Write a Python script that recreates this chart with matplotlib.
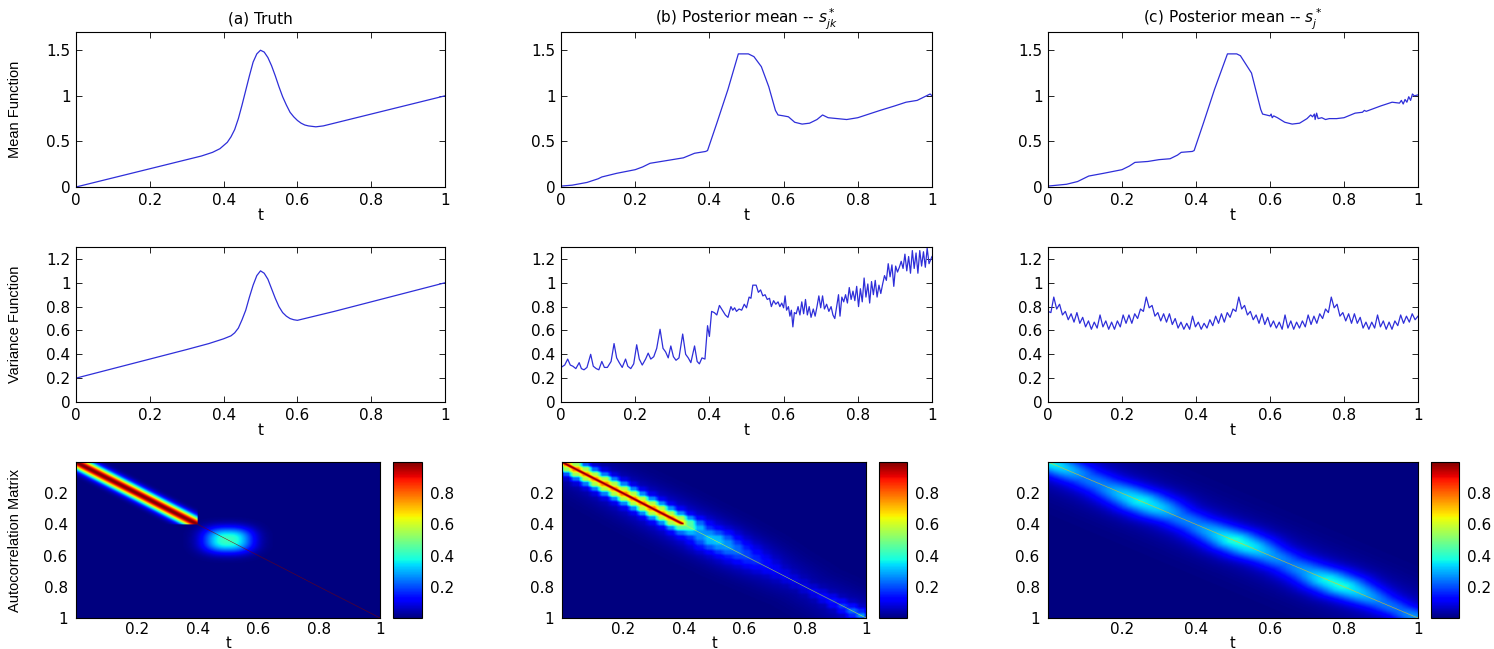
import numpy as np
import matplotlib
matplotlib.use('Agg')
import matplotlib.pyplot as plt
from matplotlib.ticker import FuncFormatter
from matplotlib.font_manager import findfont, FontProperties

# ---- mean functions --------------------------------------------------------
t_mean_truth = [0, 0.1, 0.2, 0.3, 0.34, 0.37, 0.39, 0.41, 0.42, 0.43,
                0.44, 0.45, 0.46, 0.47, 0.48, 0.49, 0.50, 0.51, 0.52, 0.53,
                0.54, 0.55, 0.56, 0.57, 0.58, 0.59, 0.60, 0.61, 0.62, 0.63,
                0.64, 0.65, 0.67, 0.7, 0.8, 0.9, 1.0]
mean_truth = [0, 0.1, 0.2, 0.3, 0.34, 0.38, 0.42, 0.49, 0.55, 0.63,
              0.75, 0.90, 1.06, 1.22, 1.37, 1.46, 1.50, 1.48, 1.42, 1.33,
              1.22, 1.10, 0.99, 0.90, 0.82, 0.77, 0.73, 0.70, 0.68, 0.67,
              0.665, 0.66, 0.67, 0.70, 0.80, 0.90, 1.00]

t_mean_jk = [0, 0.03, 0.07, 0.10, 0.11, 0.15, 0.20, 0.22, 0.24, 0.27,
             0.30, 0.33, 0.36, 0.39, 0.395, 0.42, 0.45, 0.478, 0.49, 0.505,
             0.52, 0.54, 0.56, 0.578, 0.585, 0.60, 0.613, 0.63, 0.65, 0.67,
             0.69, 0.705, 0.72, 0.745, 0.77, 0.80, 0.83, 0.86, 0.90, 0.93,
             0.96, 0.98, 0.995, 1.0]
mean_jk = [0.01, 0.02, 0.05, 0.09, 0.11, 0.15, 0.19, 0.22, 0.26, 0.28,
           0.30, 0.32, 0.37, 0.39, 0.40, 0.70, 1.07, 1.46, 1.46, 1.46,
           1.43, 1.32, 1.10, 0.84, 0.79, 0.78, 0.77, 0.71, 0.69, 0.70,
           0.74, 0.79, 0.76, 0.75, 0.74, 0.76, 0.80, 0.84, 0.89, 0.93,
           0.95, 0.99, 1.02, 1.00]

t_mean_j = [0, 0.05, 0.08, 0.10, 0.11, 0.15, 0.20, 0.22, 0.235, 0.27,
            0.30, 0.33, 0.35, 0.36, 0.39, 0.395, 0.42, 0.45, 0.485, 0.51,
            0.52, 0.55, 0.575, 0.58, 0.60, 0.603, 0.606, 0.61, 0.62, 0.64,
            0.66, 0.68, 0.70, 0.71, 0.715, 0.72, 0.722, 0.726, 0.73, 0.74,
            0.75, 0.76, 0.78, 0.80, 0.83, 0.85, 0.855, 0.86, 0.90, 0.93,
            0.95, 0.955, 0.96, 0.965, 0.97, 0.975, 0.98, 0.985, 0.99, 1.0]
mean_j = [0.01, 0.03, 0.06, 0.10, 0.12, 0.15, 0.19, 0.23, 0.27, 0.28,
          0.30, 0.31, 0.35, 0.38, 0.39, 0.40, 0.70, 1.07, 1.46, 1.46,
          1.44, 1.25, 0.85, 0.80, 0.78, 0.80, 0.76, 0.78, 0.76, 0.71,
          0.69, 0.70, 0.75, 0.79, 0.77, 0.80, 0.74, 0.81, 0.75, 0.76,
          0.74, 0.75, 0.75, 0.76, 0.81, 0.82, 0.84, 0.83, 0.89, 0.93,
          0.92, 0.95, 0.91, 0.96, 0.93, 0.99, 0.95, 1.02, 1.00, 1.01]

# ---- variance functions ----------------------------------------------------
t_var_truth = [0, 0.1, 0.2, 0.3, 0.36, 0.40, 0.42, 0.43, 0.44, 0.45,
               0.46, 0.47, 0.48, 0.49, 0.50, 0.51, 0.52, 0.53, 0.54, 0.55,
               0.56, 0.57, 0.58, 0.59, 0.60, 0.62, 0.7, 0.8, 0.9, 1.0]
var_truth = [0.2, 0.28, 0.36, 0.44, 0.49, 0.53, 0.555, 0.58, 0.62, 0.69,
             0.77, 0.88, 0.98, 1.06, 1.10, 1.08, 1.03, 0.95, 0.87, 0.80,
             0.75, 0.72, 0.70, 0.69, 0.685, 0.70, 0.76, 0.84, 0.92, 1.00]

t_var_jk = [0.000, 0.010, 0.018, 0.025, 0.032, 0.040, 0.049, 0.055, 0.062, 0.070,
            0.080, 0.087, 0.095, 0.102, 0.110, 0.117, 0.125, 0.135, 0.143, 0.150,
            0.157, 0.165, 0.174, 0.180, 0.188, 0.196, 0.204, 0.211, 0.219, 0.228,
            0.235, 0.242, 0.250, 0.258, 0.267, 0.275, 0.282, 0.289, 0.296, 0.303,
            0.310, 0.318, 0.328, 0.336, 0.343, 0.350, 0.360, 0.367, 0.373, 0.380,
            0.388, 0.395, 0.400, 0.406, 0.413, 0.420, 0.427, 0.435, 0.443, 0.450,
            0.458, 0.463, 0.468, 0.473, 0.480, 0.487, 0.494, 0.500, 0.507, 0.512,
            0.517, 0.526, 0.532, 0.538, 0.544, 0.550, 0.556, 0.562, 0.567, 0.573,
            0.579, 0.585, 0.590, 0.595, 0.600, 0.604, 0.608, 0.613, 0.617, 0.621,
            0.625, 0.629, 0.634, 0.639, 0.644, 0.649, 0.654, 0.659, 0.664, 0.669,
            0.674, 0.680, 0.685, 0.690, 0.695, 0.700, 0.705, 0.710, 0.716, 0.722,
            0.728, 0.733, 0.738, 0.743, 0.748, 0.752, 0.757, 0.762, 0.767, 0.772,
            0.777, 0.782, 0.787, 0.792, 0.797, 0.802, 0.807, 0.812, 0.817, 0.822,
            0.827, 0.832, 0.837, 0.842, 0.847, 0.852, 0.857, 0.862, 0.867, 0.872,
            0.877, 0.882, 0.887, 0.892, 0.897, 0.902, 0.907, 0.912, 0.917, 0.922,
            0.927, 0.932, 0.937, 0.942, 0.947, 0.952, 0.957, 0.962, 0.967, 0.972,
            0.977, 0.982, 0.987, 0.992, 1.000]
var_jk = [0.29, 0.31, 0.36, 0.31, 0.30, 0.28, 0.33, 0.28, 0.27, 0.29,
          0.40, 0.30, 0.28, 0.27, 0.34, 0.29, 0.29, 0.34, 0.49, 0.37,
          0.33, 0.29, 0.36, 0.30, 0.28, 0.32, 0.48, 0.36, 0.31, 0.36,
          0.41, 0.36, 0.38, 0.45, 0.61, 0.45, 0.42, 0.37, 0.47, 0.38,
          0.35, 0.37, 0.57, 0.40, 0.37, 0.33, 0.47, 0.34, 0.32, 0.37,
          0.36, 0.64, 0.55, 0.76, 0.75, 0.73, 0.81, 0.77, 0.73, 0.71,
          0.80, 0.77, 0.79, 0.76, 0.78, 0.77, 0.82, 0.79, 0.88, 0.87,
          0.98, 0.98, 0.92, 0.94, 0.89, 0.90, 0.86, 0.87, 0.80, 0.85,
          0.82, 0.84, 0.80, 0.83, 0.79, 0.89, 0.77, 0.80, 0.72, 0.77,
          0.63, 0.75, 0.74, 0.80, 0.73, 0.84, 0.74, 0.86, 0.73, 0.80,
          0.71, 0.78, 0.72, 0.80, 0.89, 0.79, 0.89, 0.78, 0.82, 0.76,
          0.80, 0.73, 0.70, 0.80, 0.90, 0.72, 0.88, 0.84, 0.90, 0.83,
          0.96, 0.86, 0.93, 0.85, 0.97, 0.80, 0.95, 0.84, 1.04, 0.88,
          0.99, 0.83, 1.01, 0.90, 1.02, 0.88, 0.98, 0.91, 0.99, 1.06,
          1.02, 1.16, 1.05, 1.15, 0.97, 1.14, 1.09, 1.13, 1.18, 1.12,
          1.24, 1.10, 1.22, 1.08, 1.27, 1.12, 1.25, 1.08, 1.27, 1.14,
          1.26, 1.13, 1.29, 1.16, 1.22]

# sampled on an even grid of 129 points over [0, 1]
var_j = [0.76, 0.75,
         0.88, 0.78, 0.82, 0.73, 0.76, 0.69, 0.74, 0.67, 0.75, 0.66, 0.71, 0.63, 0.68, 0.61, 0.67, 0.62,
         0.73, 0.63, 0.68, 0.61, 0.67, 0.61, 0.68, 0.63, 0.73, 0.66, 0.73, 0.66, 0.74, 0.70, 0.78, 0.76,
         0.88, 0.79, 0.81, 0.72, 0.75, 0.68, 0.74, 0.67, 0.74, 0.65, 0.70, 0.62, 0.67, 0.61, 0.66, 0.61,
         0.72, 0.63, 0.67, 0.61, 0.66, 0.62, 0.69, 0.64, 0.72, 0.66, 0.74, 0.67, 0.75, 0.71, 0.78, 0.76,
         0.88, 0.78, 0.81, 0.73, 0.76, 0.69, 0.73, 0.66, 0.74, 0.65, 0.71, 0.63, 0.68, 0.62, 0.67, 0.61,
         0.73, 0.62, 0.68, 0.61, 0.67, 0.62, 0.68, 0.63, 0.73, 0.65, 0.72, 0.66, 0.74, 0.70, 0.78, 0.75,
         0.88, 0.79, 0.82, 0.72, 0.75, 0.68, 0.74, 0.66, 0.74, 0.66, 0.71, 0.62, 0.67, 0.61, 0.67, 0.62,
         0.73, 0.63, 0.68, 0.61, 0.67, 0.61, 0.68, 0.64, 0.73, 0.66, 0.72, 0.67, 0.74, 0.69, 0.72]
t_var_j = np.linspace(0, 1, len(var_j))

# ---- autocorrelation matrices ---------------------------------------------
# truth: smooth band on [0, 0.4], a flat patch around 0.5, white noise beyond
truth_band_end = 0.4
truth_band_width = 0.045
truth_patch_centre = 0.5
truth_patch_level = 0.42
truth_patch_halfwidth = 0.08

# posterior estimates: level / width of the band around the diagonal
jk_knots = [0.0, 0.1, 0.2, 0.3, 0.38, 0.45, 0.5, 0.6, 0.7, 0.8, 0.9, 1.0]
jk_core_end = 0.4
jk_halo_level = [0.72, 0.70, 0.68, 0.66, 0.62, 0.15, 0.22, 0.10, 0.05, 0.05, 0.10, 0.22]
jk_halo_width = [0.050, 0.055, 0.055, 0.055, 0.055, 0.070, 0.080, 0.070, 0.050, 0.040, 0.040, 0.040]
jk_haze_level = [0.04, 0.06, 0.08, 0.10, 0.11, 0.12, 0.12, 0.10, 0.06, 0.04, 0.05, 0.07]
jk_diag = 0.6

j_knots = [0.0, 0.05, 0.1, 0.15, 0.2, 0.25, 0.3, 0.35, 0.4, 0.45, 0.5,
           0.55, 0.6, 0.65, 0.7, 0.75, 0.8, 0.85, 0.9, 0.95, 1.0]
j_halo_level = [0.32, 0.26, 0.18, 0.19, 0.26, 0.31, 0.27, 0.19, 0.19, 0.25, 0.33,
                0.30, 0.22, 0.18, 0.22, 0.31, 0.32, 0.25, 0.18, 0.17, 0.22]
j_halo_width = [0.08, 0.085, 0.09, 0.09, 0.095, 0.10, 0.10, 0.09, 0.09, 0.095, 0.10,
                0.10, 0.09, 0.09, 0.095, 0.10, 0.10, 0.09, 0.08, 0.07, 0.07]
j_haze_level = 0.06
j_diag = 0.7

N = 300
grid = (np.arange(N) + 0.5) / N
T, S = np.meshgrid(grid, grid)
D = T - S
M = (T + S) / 2
on_diag = np.eye(N, dtype=bool)


def band(level, width, knots, m, d):
    a = np.interp(m, knots, level)
    w = np.interp(m, knots, width)
    return a * np.exp(-(d / w) ** 2)


def box_blur(a, k):
    kernel = np.ones(k) / k
    a = np.apply_along_axis(lambda r: np.convolve(r, kernel, mode='same'), 0, a)
    return np.apply_along_axis(lambda r: np.convolve(r, kernel, mode='same'), 1, a)


# (a) truth
early = (T < truth_band_end) & (S < truth_band_end)
corr_truth = np.exp(-(D / truth_band_width) ** 2) * early
patch = truth_patch_level \
    * np.exp(-(np.abs(T - truth_patch_centre) / truth_patch_halfwidth) ** 2.5) \
    * np.exp(-(np.abs(S - truth_patch_centre) / truth_patch_halfwidth) ** 2.5)
corr_truth = np.maximum(corr_truth, patch)
corr_truth[on_diag] = 1.0

# (b) s*_jk: halo on a 1/32 grid (softened), haze, and a sharp core for t < 0.4
Tq = (np.floor(T * 32) + 0.5) / 32
Sq = (np.floor(S * 32) + 0.5) / 32
corr_jk = box_blur(band(jk_halo_level, jk_halo_width, jk_knots, (Tq + Sq) / 2, Tq - Sq), 5)
corr_jk += band(jk_haze_level, [0.15] * len(jk_knots), jk_knots, M, D)
core = np.exp(-(D / 0.02) ** 2) * (T < jk_core_end) * (S < jk_core_end)
corr_jk = np.maximum(corr_jk, core)
corr_jk[on_diag] = np.maximum(corr_jk[on_diag], jk_diag)
corr_jk = np.clip(corr_jk, 0, 1)

# (c) s*_j
corr_j = band(j_halo_level, j_halo_width, j_knots, M, D)
corr_j += j_haze_level * np.exp(-(D / 0.2) ** 2)
corr_j[on_diag] = j_diag

# ---- figure ---------------------------------------------------------------
W, H = 1494, 649
fig = plt.figure(figsize=(W / 100, H / 100), dpi=100)
plt.rcParams['font.family'] = 'DejaVu Sans'
LINE = (0.18, 0.18, 0.85)
FS = 11
fmt = FuncFormatter(lambda v, p: '%g' % round(v, 3))

try:
    findfont(FontProperties(family='Liberation Sans Narrow'), fallback_to_default=False)
    LABEL_FONT = 'Liberation Sans Narrow'
except ValueError:
    LABEL_FONT = 'Liberation Sans'


def px_axes(x0, x1, y0, y1):
    return fig.add_axes([x0 / W, 1 - y1 / H, (x1 - x0) / W, (y1 - y0) / H])


def style_line_axes(ax, ylim, yticks):
    ax.set_xlim(0, 1)
    ax.set_ylim(*ylim)
    ax.set_xticks([0, 0.2, 0.4, 0.6, 0.8, 1])
    ax.set_yticks(yticks)
    ax.xaxis.set_major_formatter(fmt)
    ax.yaxis.set_major_formatter(fmt)
    ax.tick_params(direction='in', top=True, right=True, length=4, width=0.6,
                   labelsize=FS, pad=4)
    for sp in ax.spines.values():
        sp.set_linewidth(0.8)
    ax.set_xlabel('t', fontsize=FS, labelpad=0)


cols = [(76, 445), (561, 932), (1048, 1418)]
titles = ['(a) Truth', r'(b) Posterior mean -- $s^*_{jk}$', r'(c) Posterior mean -- $s^*_j$']
means = [(t_mean_truth, mean_truth), (t_mean_jk, mean_jk), (t_mean_j, mean_j)]
variances = [(t_var_truth, var_truth), (t_var_jk, var_jk), (t_var_j, var_j)]

for k, (x0, x1) in enumerate(cols):
    ax = px_axes(x0, x1, 32, 187)
    ax.plot(*means[k], color=LINE, lw=0.9)
    style_line_axes(ax, (0, 1.7), [0, 0.5, 1, 1.5])
    ax.set_title(titles[k], fontsize=FS, pad=6)
    if k == 0:
        ax.set_ylabel('Mean Function', family=LABEL_FONT, fontsize=10.5)
        ax.yaxis.set_label_coords((22 - 76) / 369, 0.5)

    ax = px_axes(x0, x1, 247, 402)
    ax.plot(*variances[k], color=LINE, lw=0.9)
    style_line_axes(ax, (0, 1.3), [0, 0.2, 0.4, 0.6, 0.8, 1, 1.2])
    if k == 0:
        ax.set_ylabel('Variance Function', family=LABEL_FONT, fontsize=10.5)
        ax.yaxis.set_label_coords((22 - 76) / 369, 0.5)

heat_cols = [((76, 380), (393, 422)), ((562, 866), (879, 907)), ((1048, 1418), (1431, 1459))]
mats = [corr_truth, corr_jk, corr_j]
for k, ((x0, x1), (c0, c1)) in enumerate(heat_cols):
    ax = px_axes(x0, x1, 462, 618)
    im = ax.imshow(mats[k], cmap='jet', vmin=0, vmax=1, extent=[0, 1, 1, 0],
                   aspect='auto', interpolation='antialiased', interpolation_stage='rgba')
    ax.set_xticks([0.2, 0.4, 0.6, 0.8, 1])
    ax.set_yticks([0.2, 0.4, 0.6, 0.8, 1])
    ax.xaxis.set_major_formatter(fmt)
    ax.yaxis.set_major_formatter(fmt)
    ax.tick_params(axis='x', length=0, labelsize=FS, pad=3)
    ax.tick_params(axis='y', length=0, labelsize=FS, pad=6)
    for sp in ax.spines.values():
        sp.set_linewidth(0.8)
    ax.set_xlabel('t', fontsize=10.5, labelpad=-1)
    if k == 0:
        ax.set_ylabel('Autocorrelation Matrix', family=LABEL_FONT, fontsize=10.5)
        ax.yaxis.set_label_coords((22 - 76) / 304, 0.5)

    cax = px_axes(c0, c1, 462, 618)
    cb = fig.colorbar(im, cax=cax, ticks=[0.2, 0.4, 0.6, 0.8])
    cb.ax.yaxis.set_major_formatter(fmt)
    cb.ax.tick_params(length=0, labelsize=FS, pad=6)
    cb.outline.set_linewidth(0.8)

fig.savefig('out.png', dpi=100)
